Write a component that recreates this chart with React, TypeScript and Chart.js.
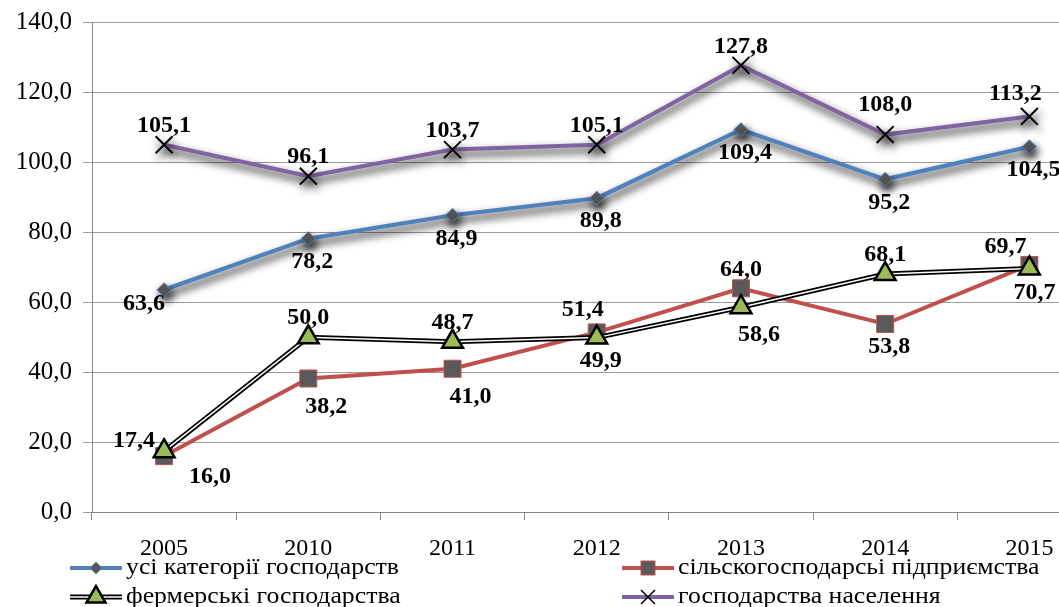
import { useEffect, useRef } from 'react';
import { Chart, registerables } from 'chart.js';

Chart.register(...registerables);

const years = ['2005', '2010', '2011', '2012', '2013', '2014', '2015'];
const allCategories = [63.6, 78.2, 84.9, 89.8, 109.4, 95.2, 104.5];
const agriEnterprises = [16.0, 38.2, 41.0, 51.4, 64.0, 53.8, 70.7];
const farms = [17.4, 50.0, 48.7, 49.9, 58.6, 68.1, 69.7];
const households = [105.1, 96.1, 103.7, 105.1, 127.8, 108.0, 113.2];

const seriesNames = [
  'усі категорії господарств',
  'сільскогосподарсьі підприємства',
  'фермерські господарства',
  'господарства населення',
];

const allLabelPos = ['belowLeft', 'below', 'below', 'below', 'below', 'below', 'below'];
const agriLabelPos = ['belowRightFar', 'belowRight', 'belowRight', 'aboveLeft', 'above', 'below', 'belowLow'];
const farmLabelPos = ['left', 'above', 'above', 'below', 'belowRight', 'above', 'aboveLeftFar'];
const householdLabelPos = ['above', 'above', 'above', 'above', 'above', 'aboveHigh', 'aboveLeft'];

const FONT = '"Liberation Serif", "Times New Roman", serif';
const BLUE = '#4f81bd';
const RED = '#c0504d';
const GREEN = '#9bbb59';
const PURPLE = '#8064a2';
const GREY_MARK = '#595959';

const OFFSETS: Record<string, [number, number]> = {
  above: [0, -19],
  aboveHigh: [0, -30],
  below: [4, 23],
  belowLow: [5, 28],
  belowLeft: [-20, 14],
  belowRight: [18, 28],
  belowRightFar: [46, 21],
  aboveLeft: [-14, -23],
  aboveLeftFar: [-24, -22],
  left: [-30, -10],
};

const fmt = (v: number) => v.toFixed(1).replace('.', ',');

const shadowPlugin = {
  id: 'lineShadow',
  beforeDatasetDraw(chart: any, args: any) {
    const ds = chart.data.datasets[args.index];
    if (!ds.shadow) return;
    const ctx = chart.ctx;
    ctx.save();
    ctx.shadowColor = 'rgba(0,0,0,0.95)';
    ctx.shadowBlur = 8;
    ctx.shadowOffsetX = 2;
    ctx.shadowOffsetY = 5;
  },
  afterDatasetDraw(chart: any, args: any) {
    const ds = chart.data.datasets[args.index];
    if (!ds.shadow) return;
    chart.ctx.restore();
  },
};

const labelPlugin = {
  id: 'valueLabels',
  afterDatasetsDraw(chart: any) {
    const ctx = chart.ctx;
    ctx.save();
    ctx.font = `bold 24px ${FONT}`;
    ctx.fillStyle = '#000';
    ctx.textAlign = 'center';
    ctx.textBaseline = 'middle';
    chart.data.datasets.forEach((ds: any, i: number) => {
      if (!ds.labelPos) return;
      const meta = chart.getDatasetMeta(i);
      meta.data.forEach((el: any, j: number) => {
        const [dx, dy] = OFFSETS[ds.labelPos[j]] || [0, 0];
        ctx.fillText(fmt(ds.data[j]), el.x + dx, el.y + dy);
      });
    });
    ctx.restore();
  },
};

function drawMarker(ctx: CanvasRenderingContext2D, kind: string, x: number, y: number) {
  ctx.save();
  if (kind === 'diamond') {
    const r = 6;
    ctx.beginPath();
    ctx.moveTo(x, y - r);
    ctx.lineTo(x + r, y);
    ctx.lineTo(x, y + r);
    ctx.lineTo(x - r, y);
    ctx.closePath();
    ctx.fillStyle = GREY_MARK;
    ctx.fill();
    ctx.strokeStyle = BLUE;
    ctx.lineWidth = 1;
    ctx.stroke();
  } else if (kind === 'square') {
    const s = 14;
    ctx.fillStyle = GREY_MARK;
    ctx.fillRect(x - s / 2, y - s / 2, s, s);
    ctx.strokeStyle = RED;
    ctx.lineWidth = 1;
    ctx.strokeRect(x - s / 2, y - s / 2, s, s);
  } else if (kind === 'triangle') {
    const r = 11;
    ctx.beginPath();
    ctx.moveTo(x, y - r);
    ctx.lineTo(x + r * Math.sin((2 * Math.PI) / 3), y + r * 0.5);
    ctx.lineTo(x - r * Math.sin((2 * Math.PI) / 3), y + r * 0.5);
    ctx.closePath();
    ctx.fillStyle = GREEN;
    ctx.fill();
    ctx.strokeStyle = '#000';
    ctx.lineWidth = 2.5;
    ctx.stroke();
  } else if (kind === 'cross') {
    const r = 7;
    ctx.beginPath();
    ctx.moveTo(x - r, y - r);
    ctx.lineTo(x + r, y + r);
    ctx.moveTo(x + r, y - r);
    ctx.lineTo(x - r, y + r);
    ctx.strokeStyle = '#000';
    ctx.lineWidth = 1.5;
    ctx.stroke();
  }
  ctx.restore();
}

const legendPlugin = {
  id: 'customLegend',
  afterDraw(chart: any) {
    const ctx: CanvasRenderingContext2D = chart.ctx;
    const items = [
      { name: seriesNames[0], color: BLUE, marker: 'diamond', x: 62, y: 560, double: false },
      { name: seriesNames[1], color: RED, marker: 'square', x: 614, y: 560, double: false },
      { name: seriesNames[2], color: '#000', marker: 'triangle', x: 62, y: 589, double: true },
      { name: seriesNames[3], color: PURPLE, marker: 'cross', x: 614, y: 589, double: false },
    ];
    ctx.save();
    items.forEach((it) => {
      const len = 52;
      ctx.beginPath();
      ctx.moveTo(it.x, it.y);
      ctx.lineTo(it.x + len, it.y);
      ctx.strokeStyle = it.color;
      ctx.lineWidth = it.double ? 5 : 4;
      ctx.stroke();
      if (it.double) {
        ctx.beginPath();
        ctx.moveTo(it.x, it.y);
        ctx.lineTo(it.x + len, it.y);
        ctx.strokeStyle = '#fff';
        ctx.lineWidth = 1.5;
        ctx.stroke();
      }
      drawMarker(ctx, it.marker, it.x + len / 2, it.y);
      ctx.save();
      ctx.translate(it.x + len + 4, it.y);
      ctx.scale(1.12, 1);
      ctx.font = `23px ${FONT}`;
      ctx.fillStyle = '#000';
      ctx.textAlign = 'left';
      ctx.textBaseline = 'middle';
      ctx.fillText(it.name, 0, 0);
      ctx.restore();
    });
    ctx.restore();
  },
};

export default function App() {
  const ref = useRef<HTMLCanvasElement>(null);

  useEffect(() => {
    if (!ref.current) return;
    const chart = new Chart(ref.current, {
      type: 'line',
      data: {
        labels: years,
        datasets: [
          {
            label: seriesNames[3],
            data: households,
            borderColor: PURPLE,
            borderWidth: 4,
            pointStyle: 'crossRot',
            pointRadius: 12,
            pointBorderColor: '#000',
            pointBorderWidth: 2,
            pointBackgroundColor: '#000',
            tension: 0,
            order: 6,
            shadow: true,
            labelPos: householdLabelPos,
          } as any,
          {
            label: seriesNames[0],
            data: allCategories,
            borderColor: BLUE,
            borderWidth: 4,
            pointStyle: 'rectRot',
            pointRadius: 7,
            pointBackgroundColor: GREY_MARK,
            pointBorderColor: BLUE,
            pointBorderWidth: 1,
            tension: 0,
            order: 5,
            shadow: true,
            labelPos: allLabelPos,
          } as any,
          {
            label: seriesNames[1],
            data: agriEnterprises,
            borderColor: RED,
            borderWidth: 4,
            pointStyle: 'rect',
            pointRadius: 12,
            pointBackgroundColor: GREY_MARK,
            pointBorderColor: RED,
            pointBorderWidth: 1,
            tension: 0,
            order: 4,
            labelPos: agriLabelPos,
          } as any,
          {
            label: seriesNames[2],
            data: farms,
            borderColor: '#000',
            borderWidth: 5,
            pointRadius: 0,
            tension: 0,
            order: 3,
          } as any,
          {
            label: seriesNames[2] + ' (inner)',
            data: farms,
            borderColor: '#fff',
            borderWidth: 1.5,
            pointRadius: 0,
            tension: 0,
            order: 2,
          } as any,
          {
            label: seriesNames[2] + ' (markers)',
            data: farms,
            showLine: false,
            pointStyle: 'triangle',
            pointRadius: 12,
            pointBackgroundColor: GREEN,
            pointBorderColor: '#000',
            pointBorderWidth: 2.5,
            order: 1,
            labelPos: farmLabelPos,
          } as any,
        ],
      },
      options: {
        animation: false,
        responsive: true,
        maintainAspectRatio: false,
        layout: { padding: { top: 0, right: 0, left: 0, bottom: 0 } },
        plugins: {
          legend: { display: false },
          tooltip: { enabled: false },
        },
        scales: {
          x: {
            offset: true,
            grid: {
              display: true,
              drawOnChartArea: false,
              drawTicks: true,
              tickLength: 8,
              offset: true,
              color: '#868686',
            },
            border: { display: true, color: '#868686', width: 1 },
            ticks: {
              font: { family: FONT, size: 24 },
              color: '#000',
              padding: 14,
              maxRotation: 0,
            },
            afterFit: (s: any) => {
              s.height = 95;
            },
          },
          y: {
            min: 0,
            max: 140,
            ticks: {
              stepSize: 20,
              font: { family: FONT, size: 25, lineHeight: 0.3 },
              color: '#000',
              padding: 11,
              callback: (v: any) => fmt(Number(v)),
            },
            grid: {
              color: '#9a9a9a',
              tickLength: 9,
              drawTicks: true,
            },
            border: { display: true, color: '#868686', width: 1 },
            afterFit: (s: any) => {
              s.width = 84;
            },
          },
        },
      },
      plugins: [shadowPlugin, labelPlugin, legendPlugin],
    });
    return () => chart.destroy();
  }, []);

  return (
    <div style={{ position: 'fixed', left: 8, top: 8, width: 1051, height: 599, overflow: 'hidden' }}>
      <div style={{ position: 'relative', width: 1108, height: 599 }}>
        <canvas ref={ref} />
      </div>
    </div>
  );
}
